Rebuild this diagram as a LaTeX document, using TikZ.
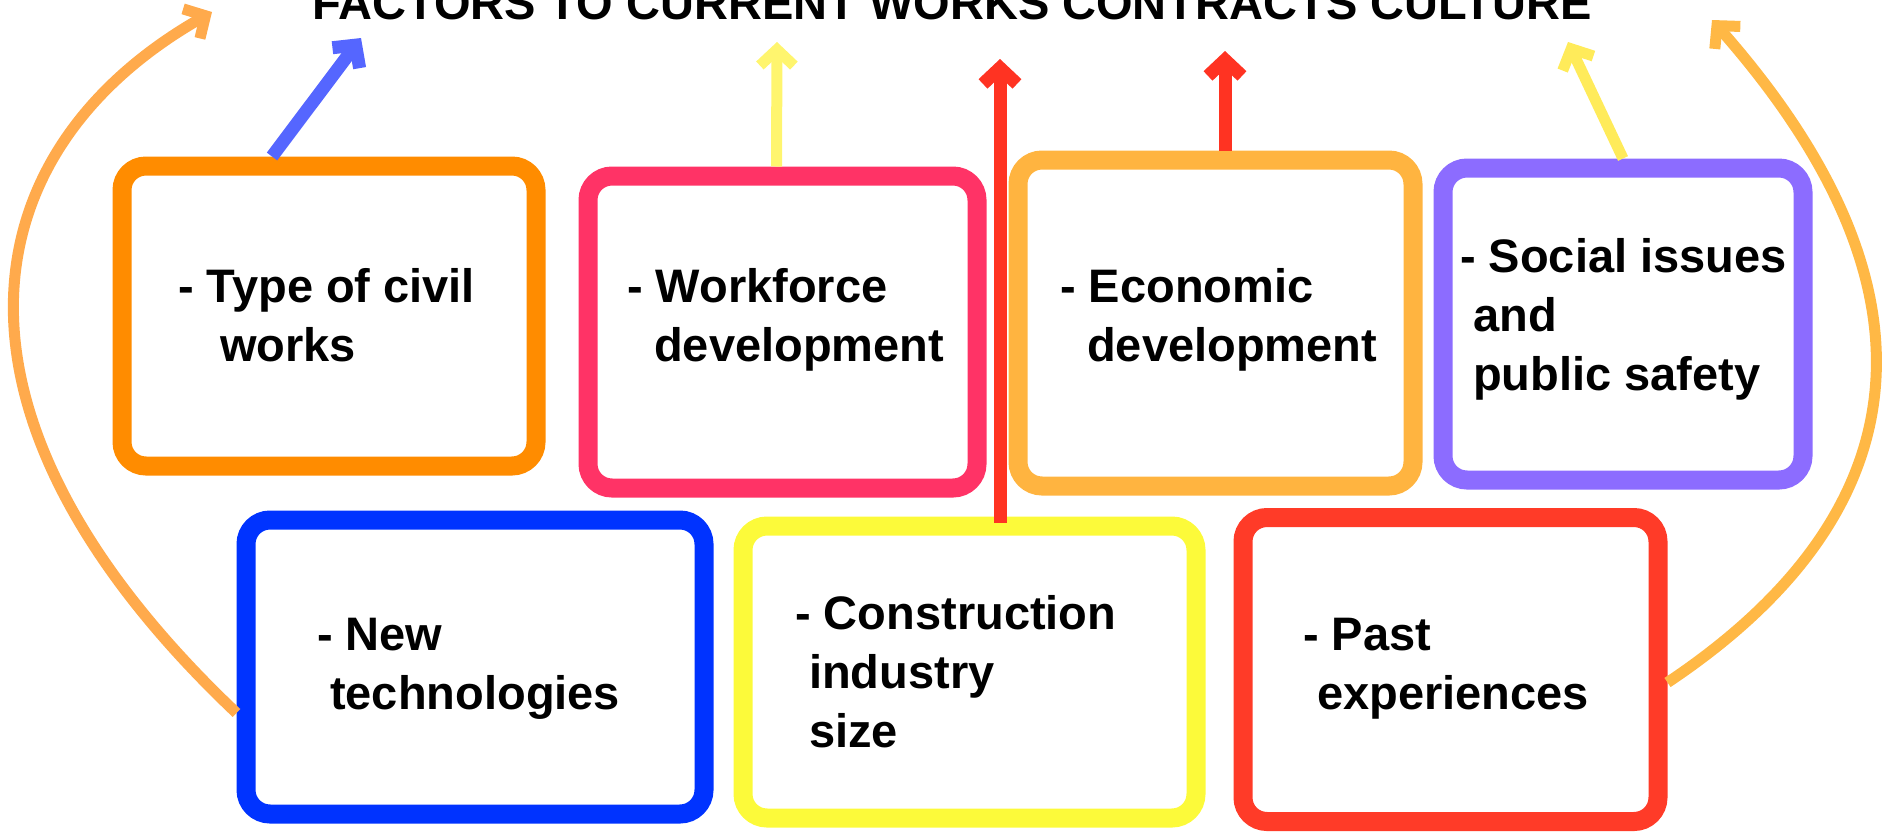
\documentclass[tikz,border=0pt]{standalone}
\usepackage{fontspec}
\setmainfont{Liberation Sans}
\usepackage{tikz}
\usetikzlibrary{arrows.meta}
\usepackage{xcolor}

\definecolor{civilC}{HTML}{FF8C00}
\definecolor{workC}{HTML}{FF3366}
\definecolor{econC}{HTML}{FFB440}
\definecolor{socialC}{HTML}{8C6CFF}
\definecolor{techC}{HTML}{0033FF}
\definecolor{sizeC}{HTML}{FCFA3A}
\definecolor{pastC}{HTML}{FF3B28}
\definecolor{arcL}{HTML}{FFAA4C}
\definecolor{arcR}{HTML}{FFB845}
\definecolor{blueA}{HTML}{5566FF}
\definecolor{yellowA}{HTML}{FFF56E}
\definecolor{yellowB}{HTML}{FFEB5A}
\definecolor{redA}{HTML}{FF3322}

\begin{document}
\begin{tikzpicture}[x=1pt, y=-1pt,
    factor/.style={draw, line width=19pt, rounded corners=24pt, inner sep=0pt},
    lbl/.style={anchor=base west, align=left, inner sep=0pt,
      font=\fontsize{47}{59}\selectfont\bfseries},
    arr/.style={-{Straight Barb[length=16pt, width=34pt]}, line width=12pt}]
          \path[use as bounding box, clip] (0,0) rectangle (1885,836);

          \node[lbl] (title) at (312,19) {FACTORS TO CURRENT WORKS CONTRACTS CULTURE};

          \node[factor, draw=civilC, minimum width=414pt, minimum height=300pt] (civil) at (329,316) {};
          \node[factor, draw=workC, minimum width=389pt, minimum height=312pt] (work) at (782.5,332) {};
          \node[factor, draw=econC, minimum width=395pt, minimum height=326pt] (econ) at (1215.5,323) {};
          \node[factor, draw=socialC, minimum width=360pt, minimum height=312pt] (social) at (1623,324) {};
          \node[factor, draw=techC, minimum width=458pt, minimum height=294pt] (tech) at (475,667) {};
          \node[factor, draw=sizeC, minimum width=453pt, minimum height=292pt] (size) at (969.5,672) {};
          \node[factor, draw=pastC, minimum width=415pt, minimum height=304pt] (past) at (1450.5,669.5) {};

          % labels sit on the baseline of their last line
          \node[lbl] (civilL) at (178,361) {- Type of civil\\\hspace*{42pt}works};
          \node[lbl] (workL) at (627,361) {- Workforce\\\hspace*{27pt}development};
          \node[lbl] (econL) at (1060,361) {- Economic\\\hspace*{27pt}development};
          \node[lbl] (socialL) at (1460,390) {- Social issues\\\hspace*{13pt}and\\\hspace*{13pt}public safety};
          \node[lbl] (techL) at (317,709) {- New\\\hspace*{13pt}technologies};
          \node[lbl] (sizeL) at (795,747) {- Construction\\\hspace*{14pt}industry\\\hspace*{14pt}size};
          \node[lbl] (pastL) at (1303,709) {- Past\\\hspace*{14pt}experiences};

          \coordinate (civilT) at (361,38);
          \coordinate (workT) at (777,42);
          \coordinate (sizeT) at (1000,59);
          \coordinate (econT) at (1225,51);
          \coordinate (socialT) at (1568,42);
          \coordinate (techT) at (212,12);
          \coordinate (pastT) at (1712,20);

          \draw[arr, draw=blueA, line width=13pt] ([xshift=-57pt]civil.north) -- (civilT);
          \draw[arr, draw=yellowA, line width=11pt] ([xshift=-6pt]work.north) -- (workT);
          \draw[arr, draw=redA, line width=13pt] ([xshift=30.5pt, yshift=-6pt]size.north) -- (sizeT);
          \draw[arr, draw=redA, line width=13pt] ([xshift=9.5pt]econ.north) -- (econT);
          \draw[arr, draw=yellowB, line width=11pt] (social.north) -- (socialT);
          \draw[arr, draw=arcL, line width=11pt] ([yshift=-46pt]tech.west) .. controls (-80,413) and (-30,150) .. (techT);
          \draw[arr, draw=arcR, line width=11pt] ([yshift=-13pt]past.east) .. controls (1905,524) and (1963,305) .. (pastT);
        \end{tikzpicture}
\end{document}
